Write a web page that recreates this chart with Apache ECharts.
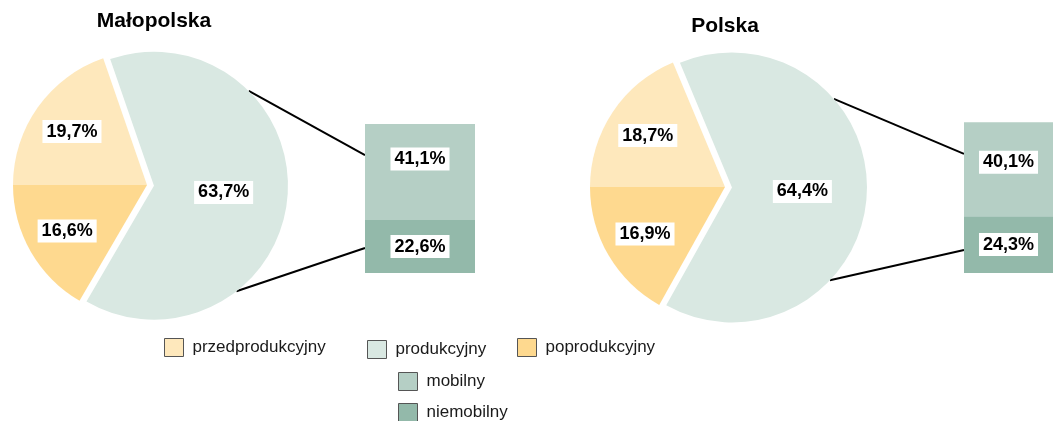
<!DOCTYPE html>
<html><head><meta charset="utf-8">
<script src="https://cdn.jsdelivr.net/npm/echarts@6/dist/echarts.min.js"></script>
<style>html,body{margin:0;padding:0;background:#fff}#c{width:1053px;height:421px}</style>
</head><body><div id="c"></div>
<script>
// ---- data ----
const regions = ['Małopolska', 'Polska'];
const ageGroups = ['przedprodukcyjny', 'produkcyjny', 'poprodukcyjny'];
const malopolskaPie = [19.7, 63.7, 16.6];
const polskaPie = [18.7, 64.4, 16.9];
const workGroups = ['mobilny', 'niemobilny'];
const malopolskaBar = [41.1, 22.6];
const polskaBar = [40.1, 24.3];

// ---- styles ----
const FONT = 'Liberation Sans, Arial, sans-serif';
const ageColors = ['#FEE8BC', '#D9E8E2', '#FED98F'];
const workColors = ['#B5CFC5', '#93B9AA'];
const pxPerPct = 2.34;
const fmt = v => v.toFixed(1).replace('.', ',') + '%';

const layout = [
  {cx: 147, cy: 185, r: 134, barLeft: 365, barBottom: 273, titleX: 154, titleY: 11,
   upA: 45, loA: -52, upF: 0.79, loF: 0.168, mobOff: -13},
  {cx: 725, cy: 187, r: 135, barLeft: 964, barBottom: 273, titleX: 725, titleY: 16,
   upA: 41, loA: -43.5, upF: 0.79, loF: 0.152, mobOff: -7}
];
const pies = [malopolskaPie, polskaPie];
const bars = [malopolskaBar, polskaBar];
const SEL = 7;

const labelStyle = {
  show: true, position: 'inside', color: '#000', fontWeight: 'bold', fontSize: 18,
  fontFamily: FONT, backgroundColor: '#fff', padding: [3, 4, 2, 4]
};

const series = [], grids = [], xAxes = [], yAxes = [], titles = [];
layout.forEach((L, i) => {
  const pv = pies[i], bv = bars[i];
  const total = bv[0] + bv[1];
  titles.push({text: regions[i], left: L.titleX, top: L.titleY, textAlign: 'center', padding: 0,
    textStyle: {fontSize: 21, fontWeight: 'bold', color: '#000', fontFamily: FONT}});
  // main pie
  series.push({
    type: 'pie', center: [L.cx, L.cy], radius: [0, L.r], startAngle: 180, clockwise: true,
    selectedMode: 'single', selectedOffset: SEL, silent: true, animation: false,
    emphasis: {disabled: true}, labelLine: {show: false},
    data: ageGroups.map((n, k) => ({
      name: n, value: pv[k], selected: k === 1,
      itemStyle: {color: ageColors[k]},
      label: k === 1 ? Object.assign({}, labelStyle, {formatter: p => fmt(p.value)}) : {show: false}
    }))
  });
  // overlay pie for outer-placed labels of the small slices
  series.push({
    type: 'pie', center: [L.cx, L.cy], radius: [L.r * 0.33, L.r], startAngle: 180, clockwise: true,
    silent: true, animation: false, emphasis: {disabled: true}, labelLine: {show: false},
    itemStyle: {color: 'rgba(0,0,0,0)'}, z: 3,
    data: ageGroups.map((n, k) => ({
      name: n + ' ', value: pv[k],
      label: k !== 1 ? Object.assign({}, labelStyle, {formatter: p => fmt(p.value)}) : {show: false}
    }))
  });
  // bar
  const h = total * pxPerPct;
  grids.push({left: L.barLeft, width: 110, top: L.barBottom - h, height: h, containLabel: false});
  xAxes.push({type: 'category', gridIndex: i, data: ['x'], show: false});
  yAxes.push({type: 'value', gridIndex: i, min: 0, max: total, show: false});
  series.push({
    type: 'bar', name: workGroups[1], xAxisIndex: i, yAxisIndex: i, stack: 's' + i, barWidth: '100%',
    data: [bv[1]], itemStyle: {color: workColors[1]}, silent: true, animation: false,
    label: Object.assign({}, labelStyle, {formatter: p => fmt(p.value)})
  });
  series.push({
    type: 'bar', name: workGroups[0], xAxisIndex: i, yAxisIndex: i, stack: 's' + i, barWidth: '100%',
    data: [bv[0]], itemStyle: {color: workColors[0]}, silent: true, animation: false,
    label: Object.assign({}, labelStyle, {offset: [0, L.mobOff], formatter: p => fmt(p.value)})
  });
});

const legendCommon = {
  orient: 'horizontal', itemWidth: 19, itemHeight: 18, selectedMode: false, icon: 'rect', padding: 0,
  itemStyle: {borderColor: '#555', borderWidth: 1},
  textStyle: {fontSize: 17, color: '#1a1a1a', fontFamily: FONT, padding: [0, 0, 0, 4]}
};
const legendPos = [[164, 338], [367, 340], [517, 338], [398, 372], [398, 403]];
const legendNames = ageGroups.concat(workGroups);
const legendColors = ageColors.concat(workColors);
const legends = legendNames.map((n, k) => Object.assign({}, legendCommon, {
  left: legendPos[k][0], top: legendPos[k][1],
  data: [{name: n, itemStyle: {color: legendColors[k]}}]
}));

const chart = echarts.init(document.getElementById('c'), null, {renderer: 'canvas'});
chart.setOption({
  animation: false, backgroundColor: '#fff',
  title: titles, grid: grids, xAxis: xAxes, yAxis: yAxes, legend: legends, series: series
});

// connector lines from the exploded slice to the bar
const graphics = [];
layout.forEach((L, i) => {
  const pv = pies[i], bv = bars[i];
  const total = bv[0] + bv[1];
  const a0 = 180 - pv[0] * 3.6, a1 = a0 - pv[1] * 3.6;
  const mid = (a0 + a1) / 2 * Math.PI / 180;
  const gx = L.cx + SEL * Math.cos(mid), gy = L.cy - SEL * Math.sin(mid);
  [[L.upA, L.upF], [L.loA, L.loF]].forEach(([ang, f]) => {
    const a = ang * Math.PI / 180;
    const p1 = [gx + L.r * Math.cos(a), gy - L.r * Math.sin(a)];
    const yb = chart.convertToPixel({gridIndex: i}, [0, total * f])[1];
    graphics.push({type: 'line', silent: true, z: 0,
      shape: {x1: p1[0], y1: p1[1], x2: L.barLeft, y2: yb},
      style: {stroke: '#000', lineWidth: 2}});
  });
});
chart.setOption({graphic: graphics});
</script>
</body></html>
